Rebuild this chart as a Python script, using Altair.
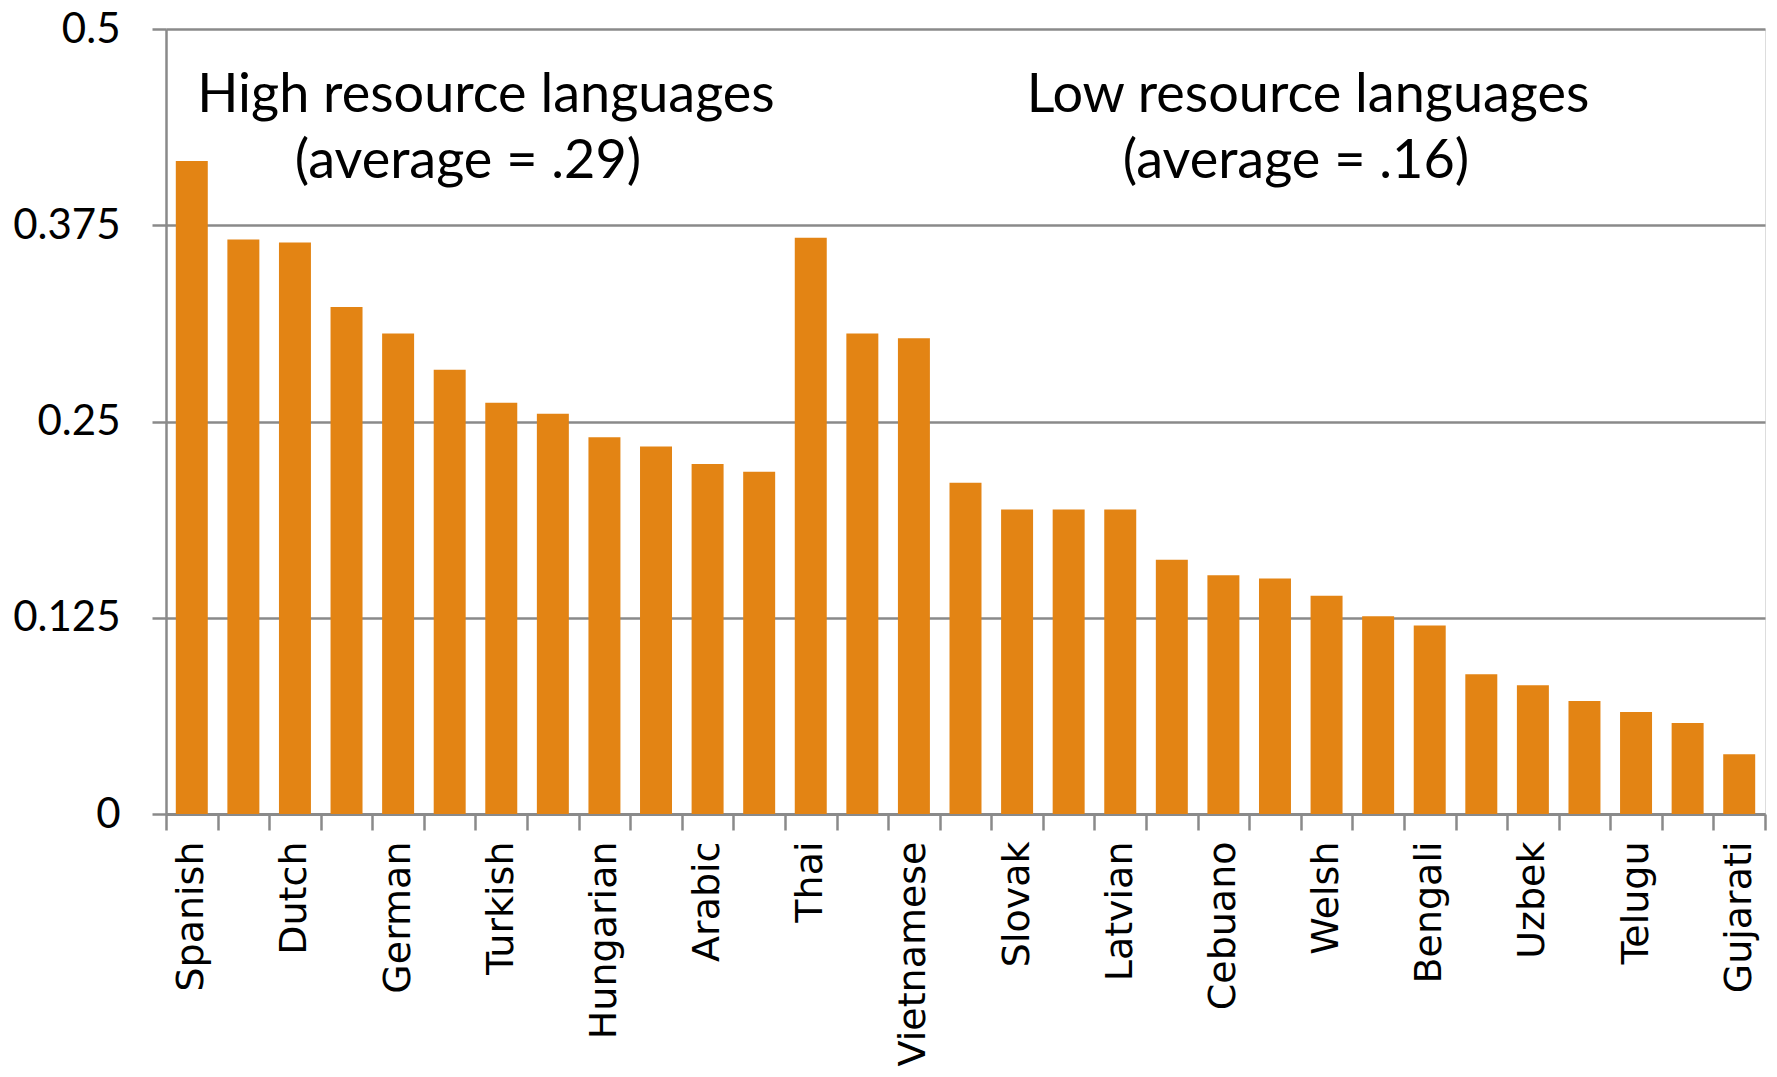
import json
import altair as alt
import pandas as pd

# Data
labels = ["Spanish", "", "Dutch", "", "German", "", "Turkish", "", "Hungarian", "",
          "Arabic", "", "Thai", "", "Vietnamese", "", "Slovak", "", "Latvian", "",
          "Cebuano", "", "Welsh", "", "Bengali", "", "Uzbek", "", "Telugu", "", "Gujarati"]
values = [0.416, 0.366, 0.364, 0.323, 0.306, 0.283, 0.262, 0.255, 0.240, 0.234,
          0.223, 0.218, 0.367, 0.306, 0.303, 0.211, 0.194, 0.194, 0.194, 0.162,
          0.152, 0.150, 0.139, 0.126, 0.120, 0.089, 0.082, 0.072, 0.065, 0.058, 0.038]
y_ticks = [0, 0.125, 0.25, 0.375, 0.5]

ann_text = ["High resource languages", "(average = .29)",
            "Low resource languages", "(average = .16)"]
ann_y = [0.447, 0.405, 0.447, 0.405]
ann_x_px = [320, 302, 1142, 1130]

df = pd.DataFrame({"idx": list(range(len(values))), "value": values})
ann = pd.DataFrame({"text": ann_text, "yv": ann_y, "px": ann_x_px})

GRAY = "#8a8a8a"
label_expr = json.dumps(labels) + "[datum.value]"

bars = alt.Chart(df).mark_bar(
    color="#E38414", width=alt.RelativeBandSize(0.62)
).encode(
    x=alt.X("idx:O", title=None,
            scale=alt.Scale(paddingInner=0, paddingOuter=0),
            axis=alt.Axis(labelExpr=label_expr, labelAngle=-90,
                          labelFont="DejaVu Sans", labelFontSize=38,
                          labelColor="#000000", labelPadding=11, labelLimit=0,
                          tickBand="extent", tickSize=16, tickColor=GRAY,
                          tickWidth=2.5, domainColor=GRAY, domainWidth=3,
                          labelOverlap=False, grid=False)),
    y=alt.Y("value:Q", title=None,
            scale=alt.Scale(domain=[0, 0.5], nice=False),
            axis=alt.Axis(values=y_ticks, format=".3~f",
                          labelFont="Lato", labelFontSize=42,
                          labelColor="#000000", labelPadding=32,
                          tickSize=14, tickColor=GRAY, tickWidth=2.5,
                          domainColor=GRAY, domainWidth=2.5,
                          grid=True, gridColor=GRAY, gridWidth=2.5)),
)

text = alt.Chart(ann).mark_text(
    font="Lato", fontSize=54, color="#000000", align="center", baseline="alphabetic"
).encode(
    x=alt.X("px:Q", scale=None),
    y=alt.Y("yv:Q"),
    text="text:N",
)

chart = alt.layer(bars, text).properties(
    width=1599, height=785,
    padding={"left": 166, "top": 29, "right": 12, "bottom": 263},
    autosize=alt.AutoSizeParams(type="none"),
).configure_view(stroke=None).configure(background="#ffffff")

chart.save("out.html", embed_options={"renderer": "svg", "actions": False})
